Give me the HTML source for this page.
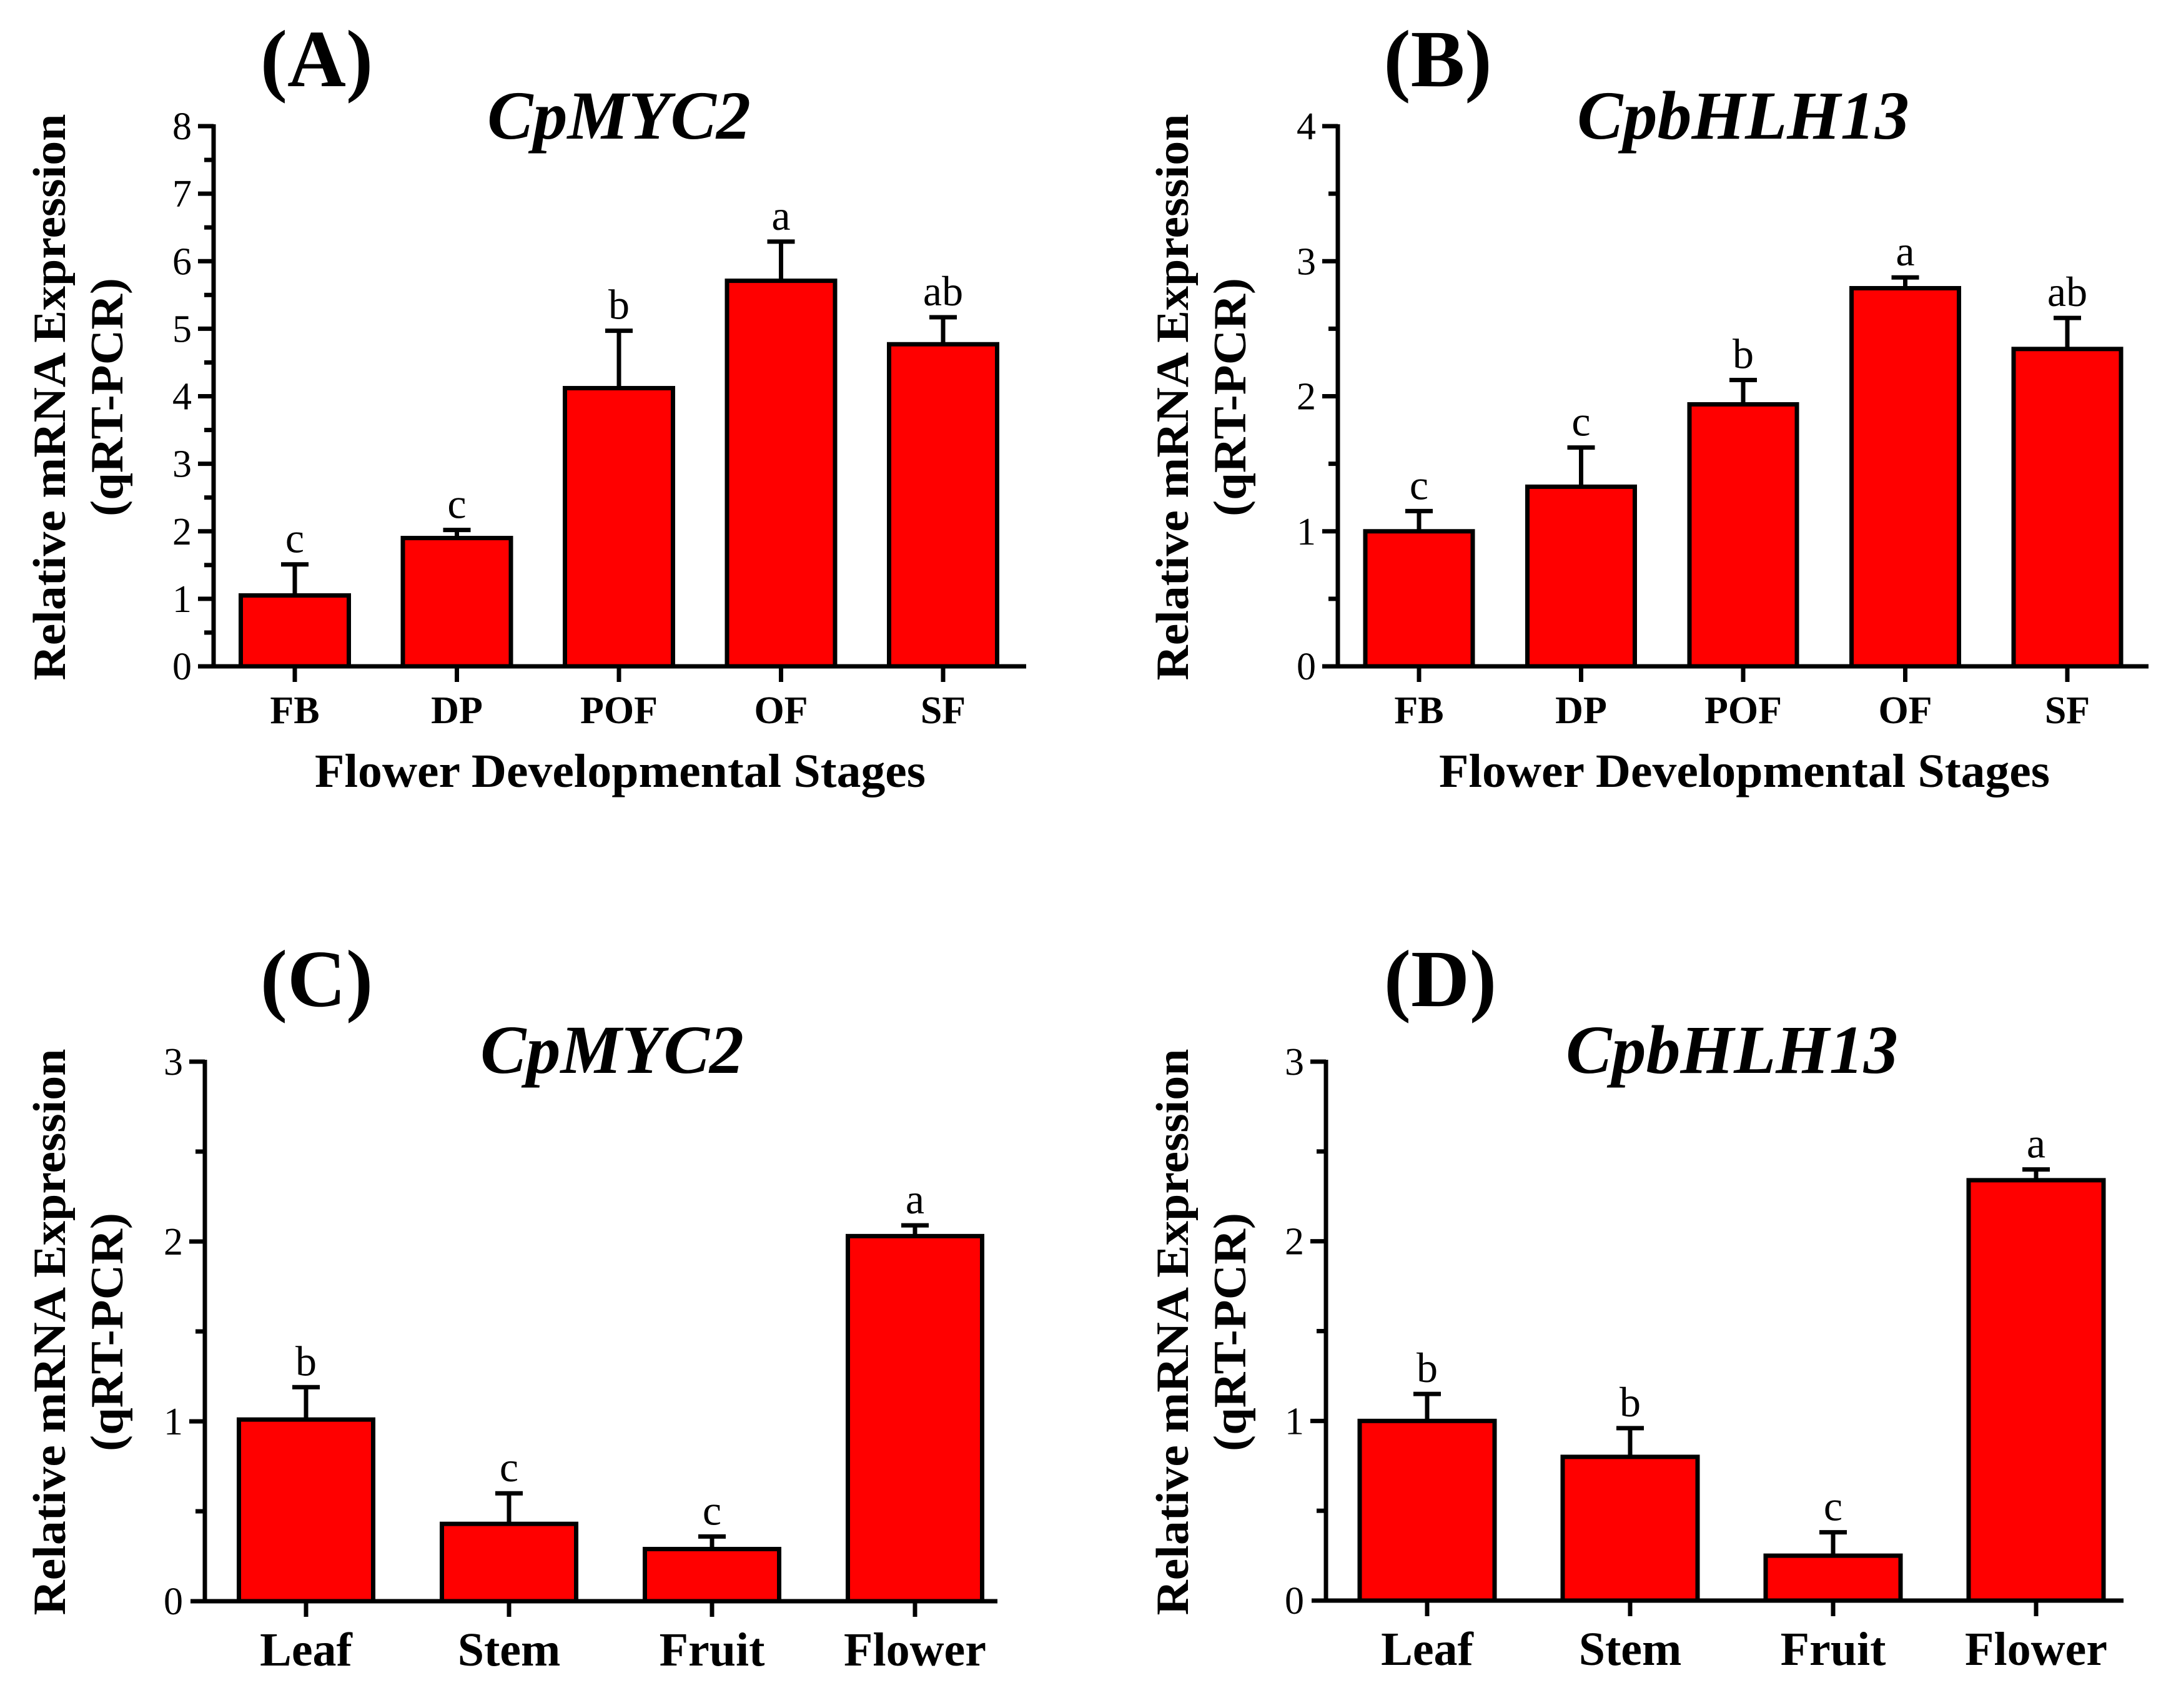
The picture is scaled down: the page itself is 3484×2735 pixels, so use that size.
<!DOCTYPE html>
<html><head><meta charset="utf-8">
<style>
html,body{margin:0;padding:0;background:#fff;}
svg{display:block;}
text{font-family:"Liberation Serif","Times New Roman",serif;fill:#000;}
</style></head>
<body>
<svg id="fig" width="3484" height="2735" viewBox="0 0 3484 2735" xmlns="http://www.w3.org/2000/svg">
<rect width="3484" height="2735" fill="#fff"/>
</svg>
<script>
const stageCats = ["FB","DP","POF","OF","SF"];
const tissueCats = ["Leaf","Stem","Fruit","Flower"];
const aValues = [1.05, 1.90, 4.12, 5.71, 4.77];
const aErrors = [0.46, 0.12, 0.85, 0.58, 0.40];
const aLetters = ["c","c","b","a","ab"];
const bValues = [1.00, 1.33, 1.94, 2.80, 2.35];
const bErrors = [0.15, 0.29, 0.18, 0.08, 0.23];
const bLetters = ["c","c","b","a","ab"];
const cValues = [1.01, 0.43, 0.29, 2.03];
const cErrors = [0.18, 0.17, 0.07, 0.06];
const cLetters = ["b","c","c","a"];
const dValues = [1.00, 0.80, 0.25, 2.34];
const dErrors = [0.15, 0.16, 0.13, 0.06];
const dLetters = ["b","b","c","a"];
const aTicks = [0,1,2,3,4,5,6,7,8];
const bTicks = [0,1,2,3,4];
const cTicks = [0,1,2,3];
const dTicks = [0,1,2,3];

const NS = "http://www.w3.org/2000/svg";
const svg = document.getElementById("fig");
function mk(tag, attrs, parent, txt){
  const e = document.createElementNS(NS, tag);
  for (const k in attrs) e.setAttribute(k, attrs[k]);
  if (txt !== undefined) e.textContent = txt;
  (parent || svg).appendChild(e);
  return e;
}

function panel(cfg){
  const g = mk("g", {});
  
  
  const ymax = cfg.ticks[cfg.ticks.length-1];
  const yS = v => cfg.y0 - (cfg.y0 - cfg.yTop) * v / ymax;
  const xS = i => cfg.cat0 + i * cfg.step;

  // panel letter
  const pl = mk("text", {x: cfg.letterX, y: cfg.letterY, "text-anchor":"middle", "font-size":130, "font-weight":"bold"}, g, cfg.letter);
  
  
  // gene title
  const gt = mk("text", {x: cfg.titleX, y: cfg.titleY, "text-anchor":"middle", "font-size":110, "font-weight":"bold", "font-style":"italic"}, g, cfg.title);
  
  

  // y-axis title
  const yt1 = mk("text", {x:0, y:0, "text-anchor":"middle", "font-size":74, "font-weight":"bold", textLength:907, lengthAdjust:"spacingAndGlyphs", transform:`translate(${cfg.yt1x},${cfg.ytc}) rotate(-90)`}, g, "Relative mRNA Expression");
  
  
  const yt2 = mk("text", {x:0, y:0, "text-anchor":"middle", "font-size":74, "font-weight":"bold", textLength:382, lengthAdjust:"spacingAndGlyphs", transform:`translate(${cfg.yt2x},${cfg.ytc}) rotate(-90)`}, g, "(qRT-PCR)");
  
  

  // bars
  cfg.values.forEach((v, i) => {
    const cx = xS(i);
    const top = yS(v), et = yS(v + cfg.errors[i]);
    const eb = mk("line", {x1:cx, x2:cx, y1:top, y2:et, stroke:"#000", "stroke-width":7}, g);
    
    
    const ec = mk("line", {x1:cx-22, x2:cx+22, y1:et, y2:et, stroke:"#000", "stroke-width":7}, g);
    
    
    const r = mk("rect", {x: cx - cfg.barW/2, y: top, width: cfg.barW, height: cfg.y0 - top, fill:"#ff0000", stroke:"#000", "stroke-width":7}, g);
    
    
    const lt = mk("text", {x: cx, y: et - 19, "text-anchor":"middle", "font-size":68}, g, cfg.letters[i]);
    
    
    const tk = mk("line", {x1:cx, x2:cx, y1:cfg.y0, y2:cfg.y0+25, stroke:"#000", "stroke-width":7}, g);
    
    
    const cl = mk("text", {x: cx, y: cfg.catY, "text-anchor":"middle", "font-size":cfg.catFont, "font-weight":"bold"}, g, cfg.cats[i]);
    
    
  });

  // axes
  const ya = mk("line", {x1:cfg.axisX, x2:cfg.axisX, y1:cfg.yTop-3, y2:cfg.y0, stroke:"#000", "stroke-width":7}, g);
  
  
  const xa = mk("line", {x1:cfg.xStart, x2:cfg.xEnd, y1:cfg.y0, y2:cfg.y0, stroke:"#000", "stroke-width":7}, g);
  
  
  cfg.ticks.forEach((t, k) => {
    const y = yS(t);
    if (t > 0) {
      const tl = mk("line", {x1:cfg.axisX-25, x2:cfg.axisX, y1:y, y2:y, stroke:"#000", "stroke-width":7}, g);
      
      
    }
    const lab = mk("text", {x: cfg.axisX - 35, y: y + 21, "text-anchor":"end", "font-size":62}, g, String(t));
    
    
    if (k < cfg.ticks.length - 1) {
      const ym = yS((t + cfg.ticks[k+1]) / 2);
      const mt = mk("line", {x1:cfg.axisX-15, x2:cfg.axisX, y1:ym, y2:ym, stroke:"#000", "stroke-width":7}, g);
      
      
    }
  });

  if (cfg.xTitle) {
    const xt = mk("text", {x: cfg.xTitleX, y: 1260, "text-anchor":"middle", "font-size":76, "font-weight":"bold", textLength:978, lengthAdjust:"spacingAndGlyphs"}, g, cfg.xTitle);
    
    
  }
}

panel({name:"panel-a", letter:"(A)", letterX:507, letterY:138, title:"CpMYC2", titleX:991, titleY:222,
  cats:stageCats, values:aValues, errors:aErrors, letters:aLetters, ticks:aTicks,
  axisX:342, y0:1067, yTop:202, cat0:472, step:259.5, barW:173, xStart:317, xEnd:1643,
  catFont:62, catY:1158, yt1x:104, yt2x:196, ytc:636, xTitle:"Flower Developmental Stages", xTitleX:993});
panel({name:"panel-b", letter:"(B)", letterX:2302, letterY:138, title:"CpbHLH13", titleX:2791, titleY:222,
  cats:stageCats, values:bValues, errors:bErrors, letters:bLetters, ticks:bTicks,
  axisX:2142, y0:1067, yTop:202, cat0:2272, step:259.5, barW:172, xStart:2117, xEnd:3440,
  catFont:62, catY:1158, yt1x:1902, yt2x:1994, ytc:636, xTitle:"Flower Developmental Stages", xTitleX:2793});
panel({name:"panel-c", letter:"(C)", letterX:507, letterY:1611, title:"CpMYC2", titleX:980, titleY:1718,
  cats:tissueCats, values:cValues, errors:cErrors, letters:cLetters, ticks:cTicks,
  axisX:328, y0:2564, yTop:1700, cat0:490, step:325, barW:215, xStart:305, xEnd:1597,
  catFont:76, catY:2667, yt1x:104, yt2x:196, ytc:2133});
panel({name:"panel-d", letter:"(D)", letterX:2306, letterY:1611, title:"CpbHLH13", titleX:2773, titleY:1718,
  cats:tissueCats, values:dValues, errors:dErrors, letters:dLetters, ticks:dTicks,
  axisX:2123, y0:2563, yTop:1700, cat0:2285, step:325, barW:216, xStart:2100, xEnd:3400,
  catFont:76, catY:2666, yt1x:1902, yt2x:1994, ytc:2133});
</script>
</body></html>
